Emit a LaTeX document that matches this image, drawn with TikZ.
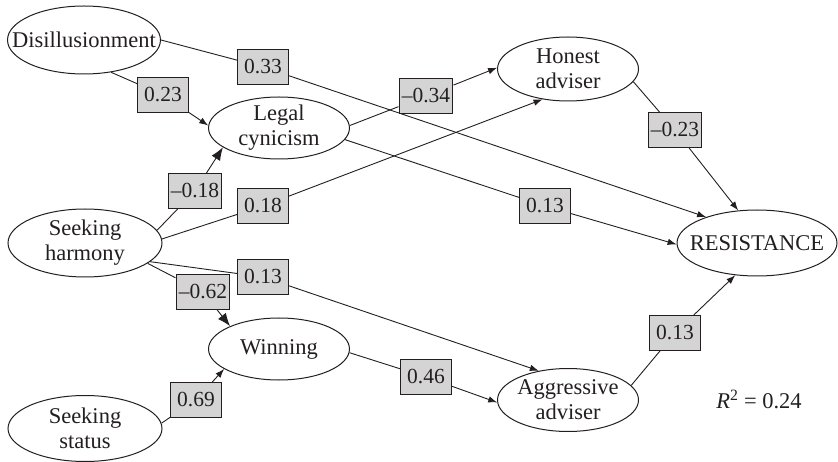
\documentclass[tikz,border=0pt]{standalone}
\usepackage{fontspec}
\setmainfont{LiberationSerif}[Extension=.ttf,UprightFont=*-Regular,
  ItalicFont=*-Italic,BoldFont=*-Bold,BoldItalicFont=*-BoldItalic]
\usetikzlibrary{arrows.meta,shapes.geometric,backgrounds}
\definecolor{ink}{RGB}{35,31,32}
\definecolor{boxgray}{RGB}{212,212,212}
\begin{document}
\begin{tikzpicture}[x=1pt,y=-1pt,
  var/.style={ellipse,draw=ink,line width=1pt,inner sep=0pt,fill=white},
  vartext/.style={align=center,text=ink,inner sep=0pt,
    font=\rmfamily\fontsize{22.5}{25}\selectfont},
  coef/.style={rectangle,draw=ink,line width=1pt,fill=boxgray,text=ink,
    minimum width=51pt,minimum height=35pt,inner xsep=2.8pt,inner ysep=0pt,
    font=\rmfamily\fontsize{21.5}{24}\selectfont},
  link/.style={draw=ink,line width=0.9pt,-{Latex[length=9pt,width=6.5pt]}},
  biglink/.style={draw=ink,line width=0.9pt,-{Latex[length=13pt,width=10pt]}},
]
\useasboundingbox (0,0) rectangle (838,462);

% latent variables
\node[var,minimum width=153pt,minimum height=68pt] (dis) at (84,40) {};
\node[var,minimum width=141pt,minimum height=62pt] (leg) at (279,128) {};
\node[var,minimum width=141pt,minimum height=64pt] (hon) at (568,69) {};
\node[var,minimum width=154pt,minimum height=68pt] (har) at (85,243) {};
\node[var,minimum width=141pt,minimum height=62pt] (win) at (279,349) {};
\node[var,minimum width=154pt,minimum height=66pt] (sta) at (85,428.5) {};
\node[var,minimum width=141pt,minimum height=63pt] (agg) at (568,400) {};
\node[var,minimum width=160pt,minimum height=66pt] (res) at (757,243) {};

\node[vartext] (dis-t) at (dis) {Disillusionment};
\node[vartext] (leg-t) at (leg) {Legal\\cynicism};
\node[vartext] (hon-t) at (hon) {Honest\\adviser};
\node[vartext] (har-t) at (har) {Seeking\\harmony};
\node[vartext] (win-t) at (win) {Winning};
\node[vartext] (sta-t) at (sta) {Seeking\\status};
\node[vartext] (agg-t) at (agg) {Aggressive\\adviser};
\node[vartext] (res-t) at (res) {RESISTANCE};

% path coefficients
\node[coef] (c-dis-res) at (263,67)  {0.33};
\node[coef] (c-dis-leg) at (163,95)  {0.23};
\node[coef] (c-leg-hon) at (426,96)  {–0.34};
\node[coef] (c-har-leg) at (195,191) {–0.18};
\node[coef] (c-har-hon) at (263,206) {0.18};
\node[coef] (c-hon-res) at (675,130) {–0.23};
\node[coef] (c-leg-res) at (545,206) {0.13};
\node[coef] (c-har-agg) at (263,277) {0.13};
\node[coef] (c-har-win) at (203,292) {–0.62};
\node[coef] (c-sta-win) at (196,400) {0.69};
\node[coef] (c-win-agg) at (426,377) {0.46};
\node[coef] (c-agg-res) at (675,333) {0.13};

\node[vartext,anchor=base] (rsq) at (759,408) {\textit{R}\textsuperscript{2} = 0.24};

% paths
\begin{scope}[on background layer]
\draw[link] (dis.east) -- (c-dis-res) -- (res.153);
\draw[link] (dis.-50) -- (c-dis-leg) -- (leg.178);
\draw[link] (leg.2) -- (c-leg-hon) -- (hon.179);
\draw[link] (leg.-10) -- (c-leg-res) -- (res.181);
\draw[biglink] (har.10) -- (c-har-leg) -- (leg.199);
\draw[link] (har.3) -- (c-har-hon) -- (hon.230);
\draw[link] (hon.-11) -- (c-hon-res) -- (res.120);
\draw[link] (har.-16) -- (c-har-agg) -- (agg.135);
\draw[biglink] (har.-18) -- (c-har-win) -- (win.155);
\draw[link] (win.-3) -- (c-win-agg) -- (agg.182);
\draw[link] (sta.4) -- (c-sta-win) -- (win.200);
\draw[link] (agg.13) -- (c-agg-res) -- (res.236);
\end{scope}
\end{tikzpicture}
\end{document}
